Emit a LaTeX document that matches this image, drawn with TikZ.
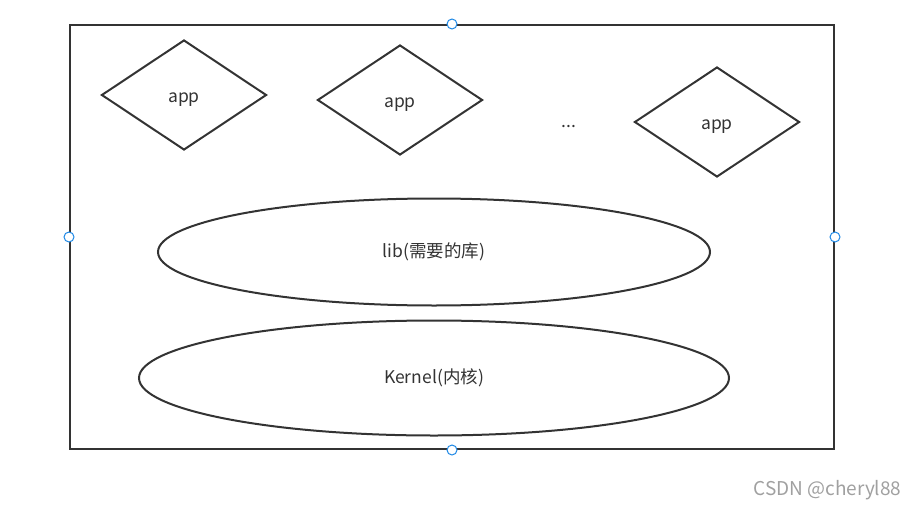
\documentclass[tikz,border=0pt]{standalone}
\usepackage{fontspec}
\setmainfont{Noto Sans CJK SC}
\usetikzlibrary{shapes.geometric}
\definecolor{edge}{HTML}{333333}
\definecolor{handle}{HTML}{1E88E5}
\definecolor{wm}{HTML}{A0A0A0}
\tikzset{
  frame/.style={draw=edge, line width=2pt},
  appbox/.style={diamond, draw=edge, line width=2pt, minimum width=165pt, minimum height=110pt, inner sep=0pt},
  apptext/.style={text=edge, font=\fontsize{17.5}{20}\selectfont},
  layer/.style={ellipse, draw=edge, line width=2pt, inner sep=0pt, font=\fontsize{17.5}{20}\selectfont, text=edge},
  handlept/.style={circle, draw=handle, fill=white, line width=1pt, minimum size=10pt, inner sep=0pt},
}
\begin{document}
\begin{tikzpicture}[x=1pt, y=-1pt]
\useasboundingbox (0,0) rectangle (918,511);
\node[frame, rectangle, minimum width=764pt, minimum height=424pt, inner sep=0pt] (box) at (452,237) {};
\node[appbox] (app1) at (184,95) {};
\node[appbox] (app2) at (400,100) {};
\node[appbox] (app3) at (717,122) {};
\node[apptext] (t1) at ([yshift=-5pt]app1.center) {app};
\node[apptext] (t2) at ([yshift=-5pt]app2.center) {app};
\node[apptext] (t3) at ([yshift=-5pt]app3.center) {app};
\node[apptext] (dots) at (569,127) {...};
\node[layer, minimum width=552pt, minimum height=107pt] (lib) at (434,252) {lib(需要的库)};
\node[layer, minimum width=590pt, minimum height=115pt] (kernel) at (434,378) {Kernel(内核)};
\node[handlept] (h1) at (box.north) {};
\node[handlept] (h2) at (box.west) {};
\node[handlept] (h3) at (box.east) {};
\node[handlept] (h4) at (box.south) {};
\node[anchor=east, text=wm, font=\fontsize{19}{22}\selectfont] (wmark) at (905,490) {CSDN @cheryl88};
\end{tikzpicture}
\end{document}
